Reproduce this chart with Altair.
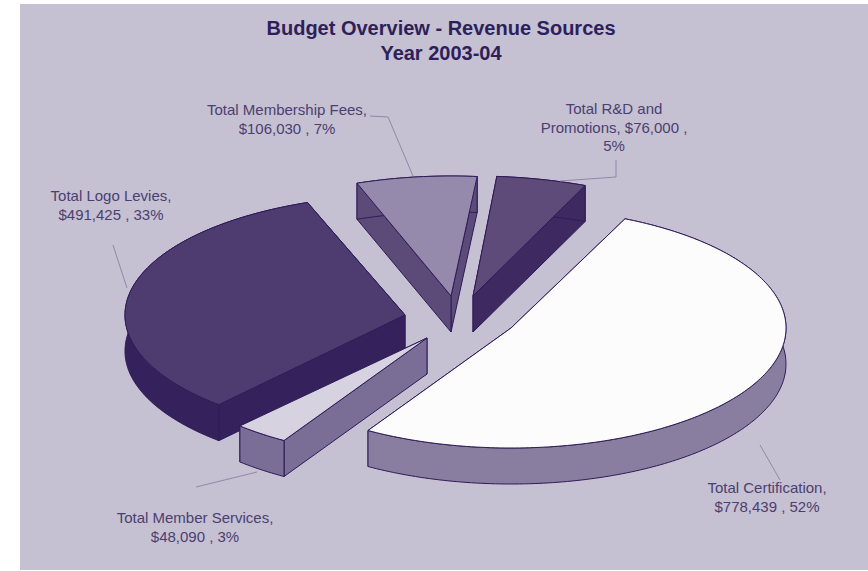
import math
import altair as alt

W, H = 868, 571

# Revenue sources, in clockwise drawing order
sources = ["Total Certification", "Total Member Services", "Total Logo Levies",
           "Total Membership Fees", "Total R&D and Promotions"]
amounts = [778439, 48090, 491425, 106030, 76000]

label_lines = [
    ["Total Certification,", "$778,439 , 52%"],
    ["Total Member Services,", "$48,090 , 3%"],
    ["Total Logo Levies,", "$491,425 , 33%"],
    ["Total Membership Fees,", "$106,030 , 7%"],
    ["Total R&D and", "Promotions, $76,000 ,", "5%"],
]
label_anchor = [(767, 488), (195, 518), (111, 196), (287, 110), (614, 109)]
LABEL_STEP = 18.5

leaders = [
    [(760, 445), (780, 480)],
    [(196, 487), (257, 472)],
    [(113, 245), (127, 288)],
    [(370, 116), (388, 117), (413, 176)],
    [(616, 160), (616, 177), (560, 181)],
]

title_lines = ["Budget Overview - Revenue Sources", "Year 2003-04"]

# Pie geometry: tilted disc, each wedge pulled out to its own apex
START_DEG = 23.0
RY, DEPTH = 120, 36
rx = [275, 275, 280, 275, 287]
turn = [1.5, 1.5, 0.3, 0.7, 0]
apex = [(511, 328), (427, 338), (405, 315), (451, 296), (473, 296)]

top_fill = ["#FCFCFD", "#D6D2E0", "#4E3B70", "#958AAB", "#5E4B7A"]
side_fill = ["#897DA0", "#7A6D96", "#35215C", "#5C4A78", "#3E2A60"]
EDGE = "#2E1B58"
PANEL = "#C5C0D2"
TEXT = "#4B3F70"
TITLE = "#2E1F5A"


def rim_point(c, a, deg, drop=0):
    t = math.radians(deg)
    return [c[0] + a * math.sin(t), c[1] - RY * math.cos(t) + drop]


def feature(ring, fill, stroke=EDGE):
    return {
        "type": "Feature",
        "geometry": {"type": "Polygon", "coordinates": [ring + [ring[0]]]},
        "properties": {"fill": fill, "stroke": stroke},
    }


faces = []
total = sum(amounts)
angle = START_DEG
for i, amount in enumerate(amounts):
    sweep = 360 * amount / total
    c = apex[i]
    first = angle + turn[i]
    steps = max(4, int(sweep))
    arc = [first + sweep * k / steps for k in range(steps + 1)]
    top_rim = [rim_point(c, rx[i], a) for a in arc]
    low_rim = [rim_point(c, rx[i], a, DEPTH) for a in arc]
    low_c = [c[0], c[1] + DEPTH]
    walls = [
        feature([list(c), top_rim[0], low_rim[0], low_c], side_fill[i]),
        feature([list(c), top_rim[-1], low_rim[-1], low_c], side_fill[i]),
    ]
    # The wall reaching lowest on screen faces the viewer, so it goes on top
    if top_rim[0][1] > top_rim[-1][1]:
        walls.reverse()
    faces.append(walls + [
        feature(top_rim + low_rim[::-1], side_fill[i]),
        feature([list(c)] + top_rim, top_fill[i]),
    ])
    angle += sweep

# Painter's order: rear wedges first
paint_order = [3, 4, 2, 1, 0]
ordered = [f for s in paint_order for f in faces[s]]

x_scale = alt.Scale(domain=[0, W], range=[0, W], nice=False, zero=False)
y_scale = alt.Scale(domain=[0, H], range=[0, H], nice=False, zero=False)
X = alt.X("x:Q", scale=x_scale, axis=None)
Y = alt.Y("y:Q", scale=y_scale, axis=None)

panel = alt.Chart(alt.Data(values=[{"x": 20, "x2": W, "y": 4, "y2": 570}])).mark_rect(
    color=PANEL
).encode(X, alt.X2("x2:Q"), Y, alt.Y2("y2:Q"))

pie = alt.Chart(alt.Data(values=ordered)).mark_geoshape(strokeWidth=1, strokeJoin="round").encode(
    fill=alt.Fill("properties.fill:N", scale=None),
    stroke=alt.Stroke("properties.stroke:N", scale=None),
).project(type="identity", scale=1, translate=[0, 0])

leader_rows = [
    {"x": p[0], "y": p[1], "k": i, "n": j}
    for i, path in enumerate(leaders)
    for j, p in enumerate(path)
]
leader = alt.Chart(alt.Data(values=leader_rows)).mark_line(
    color="#8F89A8", strokeWidth=1
).encode(X, Y, detail="k:N", order="n:Q")

label_rows = [
    {"x": label_anchor[i][0], "y": label_anchor[i][1] + j * LABEL_STEP, "t": line}
    for i, lines in enumerate(label_lines)
    for j, line in enumerate(lines)
]
labels = alt.Chart(alt.Data(values=label_rows)).mark_text(
    font="Liberation Sans", fontSize=15, color=TEXT, align="center", baseline="middle"
).encode(X, Y, text="t:N")

title_rows = [{"x": 441, "y": 29 + 25 * j, "t": t} for j, t in enumerate(title_lines)]
title = alt.Chart(alt.Data(values=title_rows)).mark_text(
    font="Liberation Sans", fontSize=20, fontWeight="bold", color=TITLE,
    align="center", baseline="middle"
).encode(X, Y, text="t:N")

chart = alt.layer(panel, pie, leader, labels, title).properties(
    width=W, height=H, padding=0, background="white"
).configure_view(stroke=None)

chart.save("out.html", embed_options={"renderer": "svg", "actions": False})
